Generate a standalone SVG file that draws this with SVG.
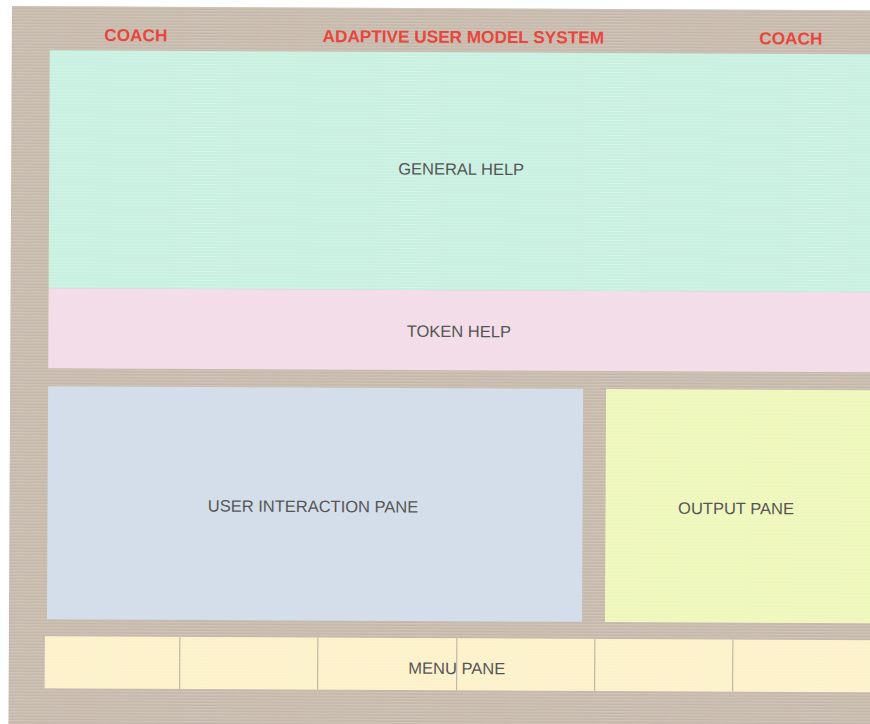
<svg xmlns="http://www.w3.org/2000/svg" width="870" height="724" viewBox="0 0 870 724">
  <defs>
    <pattern id="stripes" patternUnits="userSpaceOnUse" width="8" height="3">
      <rect x="0" y="0" width="8" height="1" fill="#ffffff" opacity="0.18"/>
    </pattern>
    <pattern id="stripesDark" patternUnits="userSpaceOnUse" width="8" height="3">
      <rect x="0" y="0" width="8" height="1" fill="#e8dcc0" opacity="0.3"/>
      <rect x="0" y="2" width="8" height="1" fill="#a89c96" opacity="0.15"/>
    </pattern>
    <style>
      .title { font-family: "Liberation Sans", Arial, sans-serif; font-weight: bold; font-size: 17.2px; fill: #e8453c; text-anchor: middle; }
      .label { font-family: "Liberation Sans", Arial, sans-serif; font-size: 16.5px; fill: #555555; text-anchor: middle; }
      .divider { stroke: #b9ac9c; stroke-width: 1; }
    </style>
  </defs>
  <rect x="0" y="0" width="870" height="724" fill="#ffffff"/>
  <g transform="rotate(0.28)">
    <g id="frame">
      <rect x="12" y="6" width="900" height="760" fill="#c8bcb0"/>
      <rect x="12" y="6" width="900" height="760" fill="url(#stripesDark)"/>
      <text class="title" x="136" y="40.5">COACH</text>
      <text class="title" x="463.5" y="40.5">ADAPTIVE USER MODEL SYSTEM</text>
      <text class="title" x="791" y="40.5">COACH</text>
    </g>
    <g id="general-help">
      <rect x="50" y="50" width="840" height="238" fill="#c8f0e0"/>
      <rect x="50" y="50" width="840" height="238" fill="url(#stripes)"/>
      <text class="label" x="462" y="172.5">GENERAL HELP</text>
    </g>
    <g id="token-help">
      <rect x="50" y="288" width="840" height="80" fill="#f2dde8"/>
      <text class="label" x="460.5" y="334.8">TOKEN HELP</text>
    </g>
    <g id="user-interaction-pane">
      <rect x="50" y="386" width="535" height="233" fill="#d4deea"/>
      <text class="label" x="315.5" y="510.5">USER INTERACTION PANE</text>
    </g>
    <g id="output-pane">
      <rect x="608" y="386" width="282" height="233" fill="#eef7ba"/>
      <rect x="608" y="386" width="282" height="233" fill="url(#stripes)"/>
      <text class="label" x="738.5" y="510.5">OUTPUT PANE</text>
    </g>
    <g id="menu-pane">
      <rect x="48" y="636" width="842" height="52" fill="#fdf1c9"/>
      <rect x="48" y="636" width="842" height="52" fill="url(#stripes)"/>
      <line class="divider" x1="183" y1="636" x2="183" y2="688"/>
      <line class="divider" x1="321" y1="636" x2="321" y2="688"/>
      <line class="divider" x1="460" y1="636" x2="460" y2="688"/>
      <line class="divider" x1="598" y1="636" x2="598" y2="688"/>
      <line class="divider" x1="736" y1="636" x2="736" y2="688"/>
      <text class="label" x="460" y="671.8">MENU PANE</text>
    </g>
  </g>
</svg>
